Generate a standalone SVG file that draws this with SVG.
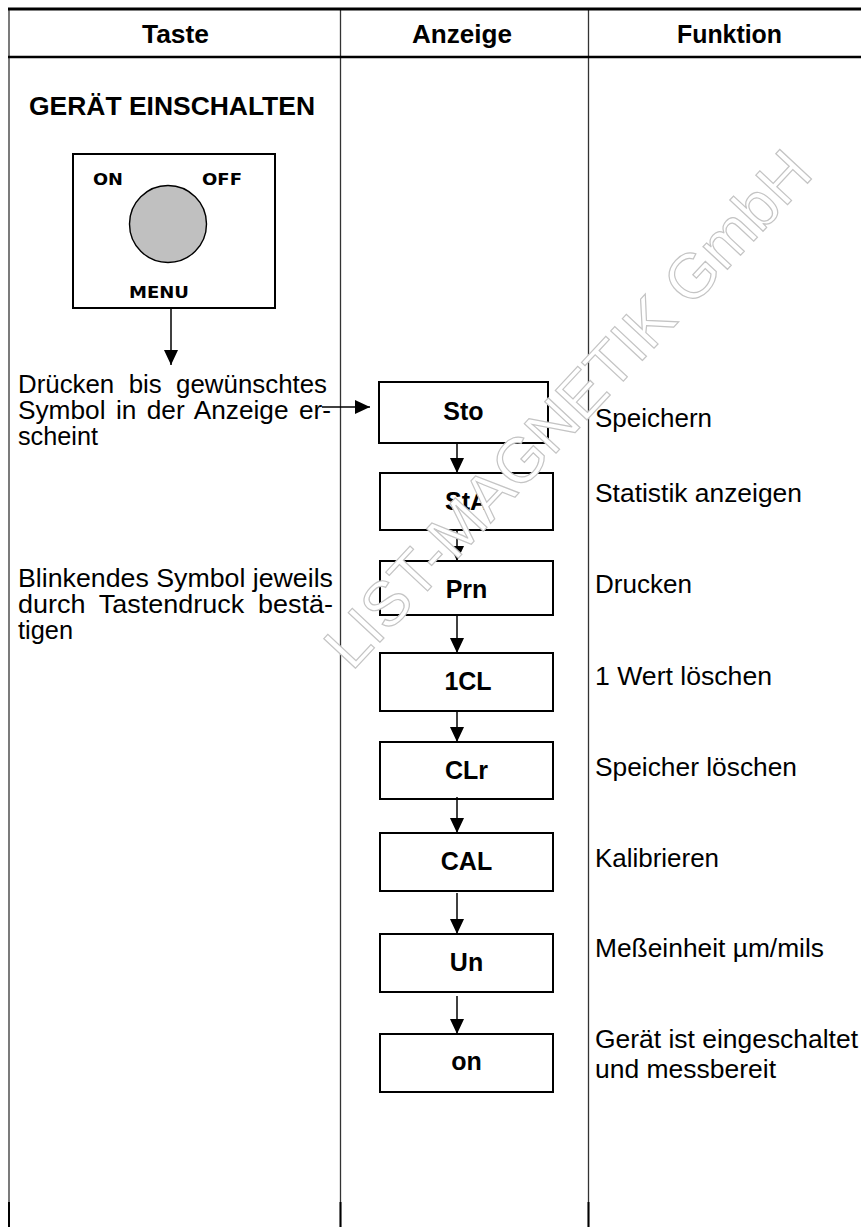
<svg xmlns="http://www.w3.org/2000/svg" width="861" height="1227" viewBox="0 0 861 1227">
<style>
.hd{font-family:"Liberation Sans",Arial,sans-serif;font-weight:bold;font-size:25.5px;fill:#000}
.tx{font-family:"Liberation Sans",Arial,sans-serif;font-size:26px;fill:#000}
.lt{font-family:"Liberation Sans",Arial,sans-serif;font-size:25px;fill:#000}
.lb{font-family:"Liberation Sans",Arial,sans-serif;font-weight:bold;font-size:25px;fill:#000;text-anchor:middle}
.sw{font-family:"DejaVu Sans",Verdana,sans-serif;font-weight:bold;font-size:16px;fill:#000}
.box{fill:#fff;stroke:#000;stroke-width:2}
.con{stroke:#000;stroke-width:1.5;fill:none;marker-end:url(#ah)}
.grid{stroke:#333;stroke-width:1.3}
.wm{font-family:"Liberation Sans",Arial,sans-serif;font-size:63px;fill:#fff;stroke:#c4c4c4;stroke-width:1.2}
</style>
<defs>
<marker id="ah" markerUnits="userSpaceOnUse" markerWidth="16" markerHeight="14" refX="15" refY="7" orient="auto">
<path d="M0,0 L15,7 L0,14 z" fill="#000"/>
</marker>
</defs>
<rect width="861" height="1227" fill="#fff"/>
<g id="table">
<line x1="9" y1="8" x2="9" y2="1227" class="grid" stroke-width="1.6"/>
<line x1="340.5" y1="9" x2="340.5" y2="1227" class="grid"/>
<line x1="588.5" y1="9" x2="588.5" y2="1227" class="grid"/>
<line x1="8" y1="9" x2="861" y2="9" stroke="#000" stroke-width="3"/>
<line x1="8" y1="57" x2="861" y2="57" stroke="#000" stroke-width="2.6"/>
<line x1="9" y1="1202" x2="9" y2="1227" stroke="#000" stroke-width="2"/>
<line x1="340.5" y1="1202" x2="340.5" y2="1227" stroke="#000" stroke-width="2"/>
<line x1="588.5" y1="1202" x2="588.5" y2="1227" stroke="#000" stroke-width="2"/>
<text class="hd" x="142" y="43" textLength="67" lengthAdjust="spacingAndGlyphs">Taste</text>
<text class="hd" x="412" y="43" textLength="100" lengthAdjust="spacingAndGlyphs">Anzeige</text>
<text class="hd" x="677" y="43" textLength="105" lengthAdjust="spacingAndGlyphs">Funktion</text>
</g>
<g id="taste-text">
<text class="hd" x="29" y="115" font-size="26" textLength="286" lengthAdjust="spacingAndGlyphs">GERÄT EINSCHALTEN</text>
<text class="lt" x="18" y="393" word-spacing="7" textLength="309" lengthAdjust="spacingAndGlyphs">Drücken bis gewünschtes</text>
<text class="lt" x="18" y="419" word-spacing="3" textLength="313" lengthAdjust="spacingAndGlyphs">Symbol in der Anzeige er-</text>
<text class="lt" x="18" y="445" textLength="80" lengthAdjust="spacingAndGlyphs">scheint</text>
<text class="lt" x="18" y="587" textLength="315" lengthAdjust="spacingAndGlyphs">Blinkendes Symbol jeweils</text>
<text class="lt" x="18" y="613" word-spacing="6" textLength="315" lengthAdjust="spacingAndGlyphs">durch Tastendruck bestä-</text>
<text class="lt" x="18" y="639" textLength="55" lengthAdjust="spacingAndGlyphs">tigen</text>
</g>
<g id="switch">
<rect x="73" y="154" width="202" height="154" class="box"/>
<circle cx="168" cy="224" r="38.5" fill="#c0c0c0" stroke="#000" stroke-width="1.4"/>
<text class="sw" x="93" y="185" textLength="30" lengthAdjust="spacingAndGlyphs">ON</text>
<text class="sw" x="202" y="185" textLength="40" lengthAdjust="spacingAndGlyphs">OFF</text>
<text class="sw" x="129" y="298" textLength="60" lengthAdjust="spacingAndGlyphs">MENU</text>
</g>
<g id="node-sto"><rect x="379" y="382" width="169" height="61" class="box"/><text class="lb" x="463.5" y="420">Sto</text></g>
<g id="node-sta"><rect x="380" y="473" width="173" height="57" class="box"/><text class="lb" x="466.5" y="510">StA</text></g>
<g id="node-prn"><rect x="380" y="561" width="173" height="54" class="box"/><text class="lb" x="466.5" y="598">Prn</text></g>
<g id="node-1cl"><rect x="380" y="653" width="173" height="58" class="box"/><text class="lb" x="468" y="690">1CL</text></g>
<g id="node-clr"><rect x="380" y="742" width="173" height="57" class="box"/><text class="lb" x="466.5" y="779">CLr</text></g>
<g id="node-cal"><rect x="380" y="833" width="173" height="58" class="box"/><text class="lb" x="466.5" y="870">CAL</text></g>
<g id="node-un"><rect x="380" y="934" width="173" height="58" class="box"/><text class="lb" x="466.5" y="971">Un</text></g>
<g id="node-on"><rect x="380" y="1034" width="173" height="58" class="box"/><text class="lb" x="466.5" y="1070">on</text></g>
<g id="funktion-text">
<text class="tx" x="595" y="427" textLength="117" lengthAdjust="spacingAndGlyphs">Speichern</text>
<text class="tx" x="595" y="502" textLength="207" lengthAdjust="spacingAndGlyphs">Statistik anzeigen</text>
<text class="tx" x="595" y="593" textLength="97" lengthAdjust="spacingAndGlyphs">Drucken</text>
<text class="tx" x="595" y="685" textLength="177" lengthAdjust="spacingAndGlyphs">1 Wert löschen</text>
<text class="tx" x="595" y="776" textLength="202" lengthAdjust="spacingAndGlyphs">Speicher löschen</text>
<text class="tx" x="595" y="867" textLength="124" lengthAdjust="spacingAndGlyphs">Kalibrieren</text>
<text class="tx" x="595" y="957" textLength="229" lengthAdjust="spacingAndGlyphs">Meßeinheit µm/mils</text>
<text class="tx" x="595" y="1048" textLength="263" lengthAdjust="spacingAndGlyphs">Gerät ist eingeschaltet</text>
<text class="tx" x="595" y="1078" textLength="181" lengthAdjust="spacingAndGlyphs">und messbereit</text>
</g>
<g id="connectors">
<line x1="171" y1="308" x2="171" y2="365" class="con"/>
<line x1="322" y1="407" x2="370" y2="407" class="con"/>
<line x1="457" y1="443" x2="457" y2="473" class="con"/>
<line x1="457" y1="530" x2="457" y2="561" class="con"/>
<line x1="457" y1="615" x2="457" y2="653" class="con"/>
<line x1="457" y1="711" x2="457" y2="742" class="con"/>
<line x1="457" y1="797" x2="457" y2="833" class="con"/>
<line x1="457" y1="893" x2="457" y2="934" class="con"/>
<line x1="457" y1="996" x2="457" y2="1034" class="con"/>
</g>
<g id="watermark">
<text class="wm" transform="translate(352,672) rotate(-47)">LIST-MAGNETIK GmbH</text>
</g>
</svg>
